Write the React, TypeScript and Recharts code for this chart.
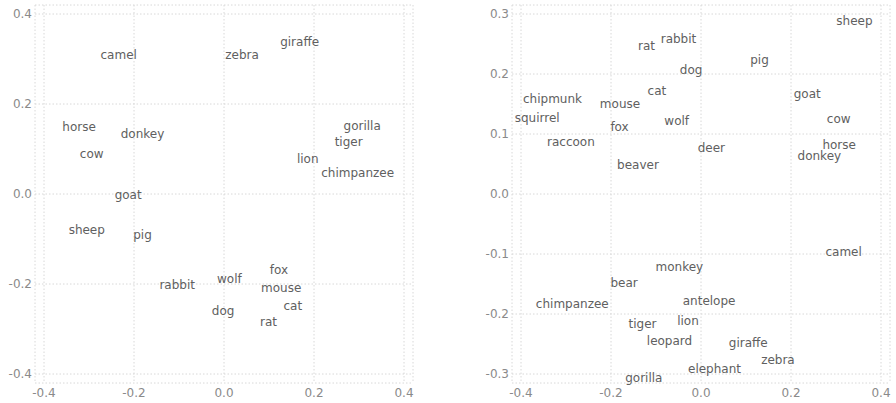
import { ScatterChart, Scatter, XAxis, YAxis, CartesianGrid } from 'recharts'

type Pt = { name: string; x: number; y: number }

// left panel: label centres
const leftNames = ['camel', 'zebra', 'giraffe', 'horse', 'donkey', 'cow', 'gorilla', 'tiger', 'lion', 'chimpanzee',
  'goat', 'sheep', 'pig', 'rabbit', 'wolf', 'fox', 'mouse', 'cat', 'dog', 'rat']
const leftX = [-0.234, 0.04, 0.168, -0.322, -0.181, -0.294, 0.307, 0.277, 0.186, 0.297,
  -0.213, -0.305, -0.181, -0.104, 0.012, 0.122, 0.127, 0.153, -0.002, 0.099]
const leftY = [0.309, 0.309, 0.338, 0.149, 0.134, 0.09, 0.151, 0.116, 0.078, 0.047,
  -0.002, -0.08, -0.091, -0.202, -0.189, -0.169, -0.209, -0.248, -0.26, -0.284]

// right panel
const rightNames = ['sheep', 'rat', 'rabbit', 'dog', 'pig', 'cat', 'chipmunk', 'mouse', 'squirrel', 'fox', 'wolf',
  'raccoon', 'beaver', 'deer', 'goat', 'cow', 'horse', 'donkey', 'camel', 'monkey', 'bear', 'chimpanzee',
  'antelope', 'tiger', 'lion', 'leopard', 'giraffe', 'zebra', 'elephant', 'gorilla']
const rightX = [0.341, -0.121, -0.05, -0.022, 0.13, -0.098, -0.33, -0.18, -0.364, -0.181, -0.054,
  -0.289, -0.14, 0.023, 0.236, 0.306, 0.307, 0.263, 0.317, -0.048, -0.171, -0.286,
  0.018, -0.13, -0.029, -0.07, 0.105, 0.171, 0.03, -0.127]
const rightY = [0.289, 0.247, 0.258, 0.206, 0.223, 0.172, 0.158, 0.15, 0.127, 0.111, 0.121,
  0.086, 0.048, 0.077, 0.166, 0.125, 0.082, 0.064, -0.096, -0.122, -0.149, -0.183,
  -0.179, -0.217, -0.211, -0.245, -0.248, -0.276, -0.292, -0.306]

const xTicks = [-0.4, -0.2, 0, 0.2, 0.4]
const leftYTicks = [-0.4, -0.2, 0, 0.2, 0.4]
const rightYTicks = [-0.3, -0.2, -0.1, 0, 0.1, 0.2, 0.3]

const zip = (n: string[], xs: number[], ys: number[]): Pt[] => n.map((name, i) => ({ name, x: xs[i], y: ys[i] }))

const font = 'DejaVu Sans, sans-serif'
const tickStyle = { fontSize: 12, fill: '#8a8a8a', fontFamily: font }

const Label = (p: any) => (
  <text x={p.cx} y={p.cy} textAnchor="middle" dominantBaseline="central" fontSize={12}
    fontFamily={font} fill="#606060">{p.payload.name}</text>
)

function Panel({ data, yDomain, yTicks }: { data: Pt[]; yDomain: number[]; yTicks: number[] }) {
  return (
    <ScatterChart width={448} height={403} margin={{ top: 5, right: 35, left: 0, bottom: 0 }}>
      <CartesianGrid stroke="#d8d8d8" strokeDasharray="1.5 2" />
      <XAxis type="number" dataKey="x" domain={[-0.42, 0.42]} ticks={xTicks} height={20}
        axisLine={false} tickLine={false} tickSize={5} tickMargin={0} tick={tickStyle}
        tickFormatter={(v: number) => v.toFixed(1)} />
      <YAxis type="number" dataKey="y" domain={yDomain} ticks={yTicks} width={35}
        axisLine={false} tickLine={false} tickSize={3} tickMargin={0} tick={tickStyle}
        tickFormatter={(v: number) => v.toFixed(1)} />
      <Scatter data={data} shape={Label} isAnimationActive={false} />
    </ScatterChart>
  )
}

export default function App() {
  return (
    <div style={{ position: 'absolute', left: 0, top: 0, width: 896, height: 403, background: '#fff', overflow: 'hidden' }}>
      <div style={{ position: 'absolute', left: 0, top: 0 }}>
        <Panel data={zip(leftNames, leftX, leftY)} yDomain={[-0.42, 0.42]} yTicks={leftYTicks} />
      </div>
      <div style={{ position: 'absolute', left: 477, top: 0 }}>
        <Panel data={zip(rightNames, rightX, rightY)} yDomain={[-0.315, 0.315]} yTicks={rightYTicks} />
      </div>
    </div>
  )
}
